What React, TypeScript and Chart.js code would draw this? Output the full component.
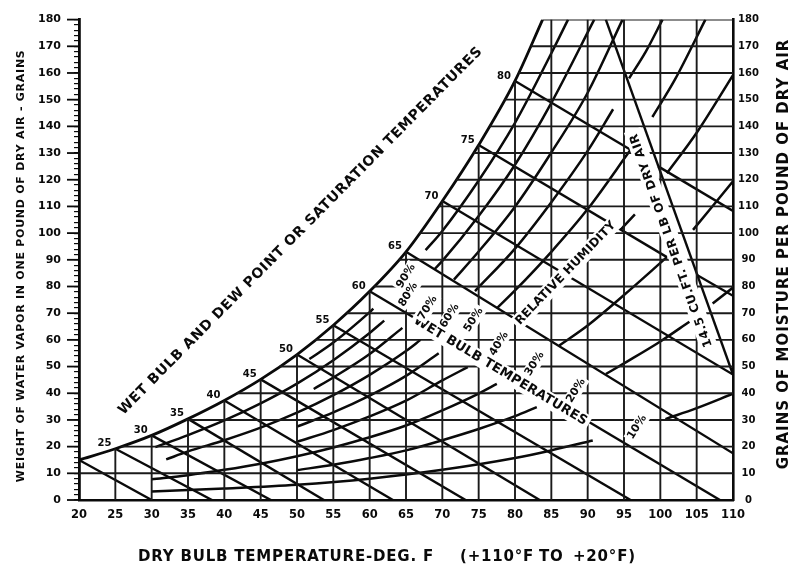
import { useEffect, useRef } from 'react';
import { Chart, registerables } from 'chart.js';

Chart.register(...registerables);

type Pt = [number, number] | null;

// ---- axes ----
const X_MIN = 20;
const X_MAX = 110;
const X_STEP = 5;
const Y_MIN = 0;
const Y_MAX = 180;

// ---- saturation (100 %) curve : [dry bulb F, grains] ----
const saturation: Pt[] = [[20, 15], [25, 19.2], [30, 24.2], [35, 30.4], [40, 37.3], [45, 45.2], [50, 54.5], [55, 65.5], [60, 78.2], [65, 93], [70, 112], [75, 133], [80, 157], [83.8, 180]];

// ---- relative humidity curves (null = break in the line) ----
const rh10: Pt[] = [[30, 3.2], [40, 4.3], [50, 5.7], [60, 8.0], [70, 11.3], [80, 15.7], [85, 18.6], [90.7, 22.3], null, [100.7, 30.3], [105, 34.4], [110, 39.8]];
const rh20: Pt[] = [[50, 11.2], [55, 13.2], [60, 15.7], [65, 18.6], [70, 22.4], [75, 26.6], [80, 31.4], [83, 34.8], null, [92.5, 47.2], [95, 51.2], [100, 59.4], [104, 66.8], null, [107.2, 73.6], [110, 79.6]];
const rh30: Pt[] = [[30, 7.8], [35, 9.3], [40, 11.3], [45, 13.6], [50, 16.4], [55, 19.7], [60, 23.5], [65, 27.9], [70, 33.6], [75, 39.9], [77.5, 43.5], null, [86.1, 57.9], [90, 65.4], [95, 76.8], [100.9, 91], null, [104.5, 101.2], [110, 119.4]];
const rh40: Pt[] = [[50, 21.8], [55, 26.2], [60, 31.3], [65, 37.2], [70, 44.8], [73.5, 49.8], null, [94.5, 101.2], [96.5, 107], null, [100.9, 122.4], [105, 137.6], [110, 159.2]];
const rh50: Pt[] = [[50, 27.5], [55, 32.8], [60, 39.1], [65, 46.5], [69.5, 55], null, [77.5, 71.8], [80, 78.5], [85, 93], [90, 109], [95.9, 131.2], null, [98.9, 143.5], [102, 157.5], [106.2, 180]];
const rh60: Pt[] = [[32, 15.2], [35, 18.2], [40, 22.4], [45, 27.1], [50, 32.7], [55, 39.3], [60, 46.9], [65, 55.8], [67, 60], null, [74.5, 78.3], [80, 94.2], [85, 111.6], [90, 130.8], [93.5, 146.4], null, [95.7, 158], [98, 168], [100.3, 180]];
const rh70: Pt[] = [[52.3, 41.6], [55, 45.9], [60, 54.7], [64.5, 64.5], null, [71.6, 82.6], [75, 93.1], [80, 109.9], [85, 130.2], [90, 152.6], [94.8, 180]];
const rh80: Pt[] = [[30.5, 19.8], [35, 24.3], [40, 29.8], [45, 36.2], [50, 43.6], [55, 52.4], [60, 62.6], [62, 67.2], null, [68.9, 86.4], [70, 89.6], [75, 106.4], [80, 125.6], [85, 148.8], [90.9, 180]];
const rh90: Pt[] = [[51.7, 52.8], [55, 59], [60, 70.4], [60.5, 71.7], null, [67.7, 93.6], [70, 100.8], [75, 119.7], [80, 141.3], [85, 167.4], [87.3, 180]];

// ---- wet bulb lines ----
const wb20: Pt[] = [[20, 15], [30, 0]];
const wb25: Pt[] = [[25, 19.2], [38.3, 0]];
const wb30: Pt[] = [[30, 24.2], [46.4, 0]];
const wb35: Pt[] = [[35, 30.4], [53.7, 0]];
const wb40: Pt[] = [[40, 37.3], [63.2, 0]];
const wb45: Pt[] = [[45, 45.2], [73.2, 0]];
const wb50: Pt[] = [[50, 54.5], [83.4, 0]];
const wb55: Pt[] = [[55, 65.5], [95.9, 0]];
const wb60: Pt[] = [[60, 78.2], [108.2, 0]];
const wb65: Pt[] = [[65, 93], [110, 17.5]];
const wb70: Pt[] = [[70, 112], [110, 47]];
const wb75: Pt[] = [[75, 133], [100.9, 91], null, [105.1, 84.2], [110, 76.5]];
const wb80: Pt[] = [[80, 157], [95.9, 131.2], null, [99.7, 125], [110, 108.3]];
const wetBulbTemps = [20, 25, 30, 35, 40, 45, 50, 55, 60, 65, 70, 75, 80];

// ---- 14.5 cu ft specific volume line ----
const specVolume: Pt[] = [[92.5, 180], [110, 47]];

// ---- grid: vertical lines [dry bulb, top grains], horizontal lines [grains, start dry bulb] ----
const gridVertical: Pt[] = [[25, 19.2], [30, 24.2], [35, 30.4], [40, 37.3], [45, 45.2], [50, 54.5], [55, 65.5], [60, 78.2], [65, 93], [70, 112], [75, 133], [80, 157], [85, 180], [90, 180], [95, 180], [100, 180], [105, 180]];
const gridHorizontal: Pt[] = [[10, 20], [20, 25.8], [30, 34.7], [40, 41.7], [50, 47.6], [60, 52.5], [70, 56.8], [80, 60.6], [90, 64], [100, 66.8], [110, 69.5], [120, 71.9], [130, 74.3], [140, 76.5], [150, 78.5], [160, 80.5], [170, 82.2], [180, 83.8]];

// ---- labels ----
const rhLabels: [string, number, number][] = [['90%', 65.0, 83.9], ['80%', 65.3, 77.0], ['70%', 68.0, 72.0], ['60%', 71.0, 69.0], ['50%', 74.3, 67.5], ['40%', 77.8, 58.5], ['30%', 82.7, 51.0], ['20%', 88.4, 41.0], ['10%', 96.8, 27.3]];

const INK = '#0a0a0a';
const FONT = '"DejaVu Sans", sans-serif';

type TextLabel = { t: string; x: number; y: number; r: number; size: number; ls: number; pad: number; box: boolean };
const textLabels: TextLabel[] = [
  { t: 'WET BULB TEMPERATURES', x: 78, y: 48.3, r: 31, size: 13, ls: 0.2, pad: 3, box: true },
  { t: 'RELATIVE HUMIDITY', x: 87.0, y: 85.0, r: -46, size: 12, ls: 0.2, pad: 3, box: true },
  { t: '14.5 CU.FT. PER LB OF DRY AIR', x: 101.5, y: 97.3, r: -109.5, size: 12, ls: 0.6, pad: 4, box: true },
  { t: 'WET BULB AND DEW POINT OR SATURATION TEMPERATURES', x: 50.5, y: 100.8, r: -45.3, size: 14, ls: 0.7, pad: 0, box: false },
];

function toSegments(pts: Pt[]) {
  const segs: { x: number; y: number }[][] = [];
  let cur: { x: number; y: number }[] = [];
  for (const p of pts) {
    if (p === null) {
      if (cur.length) segs.push(cur);
      cur = [];
    } else cur.push({ x: p[0], y: p[1] });
  }
  if (cur.length) segs.push(cur);
  return segs;
}

function lineSets(pts: Pt[], width: number, smooth: boolean, color = INK) {
  return toSegments(pts).map((seg) => ({
    data: seg,
    showLine: true,
    borderColor: color,
    backgroundColor: color,
    borderWidth: width,
    pointRadius: 0,
    fill: false,
    tension: 0,
    cubicInterpolationMode: smooth ? 'monotone' : 'default',
  }));
}

function drawText(ctx: CanvasRenderingContext2D, t: string, px: number, py: number, rot: number, font: string, ls: number, pad: number, box: boolean, h: number) {
  ctx.save();
  ctx.translate(px, py);
  ctx.rotate((rot * Math.PI) / 180);
  ctx.font = font;
  (ctx as any).letterSpacing = ls + 'px';
  const w = ctx.measureText(t).width;
  if (box) {
    ctx.fillStyle = '#ffffff';
    ctx.fillRect(-w / 2 - pad, -h / 2 - pad, w + 2 * pad, h + 2 * pad);
  }
  ctx.fillStyle = INK;
  ctx.textAlign = 'center';
  ctx.textBaseline = 'middle';
  ctx.fillText(t, 0, 0);
  ctx.restore();
}

const labelPlugin = {
  id: 'psychroLabels',
  afterDatasetsDraw(chart: any) {
    const ctx: CanvasRenderingContext2D = chart.ctx;
    const xs = chart.scales.x;
    const ys = chart.scales.y;
    for (const a of textLabels) {
      drawText(ctx, a.t, xs.getPixelForValue(a.x), ys.getPixelForValue(a.y), a.r, `bold ${a.size}px ${FONT}`, a.ls, a.pad, a.box, a.size * 0.8);
    }
    for (const [t, x, y] of rhLabels) {
      drawText(ctx, t, xs.getPixelForValue(x), ys.getPixelForValue(y), -58, `bold 11px ${FONT}`, 0, 2, true, 9);
    }
    // wet bulb temperature labels along saturation curve
    const wbs = [wb20, wb25, wb30, wb35, wb40, wb45, wb50, wb55, wb60, wb65, wb70, wb75, wb80];
    ctx.save();
    ctx.font = `bold 10px ${FONT}`;
    ctx.fillStyle = INK;
    ctx.textAlign = 'right';
    ctx.textBaseline = 'middle';
    wetBulbTemps.forEach((t, i) => {
      if (t === 20) return;
      const p = wbs[i][0] as [number, number];
      ctx.fillText(String(t), xs.getPixelForValue(p[0]) - 4, ys.getPixelForValue(p[1]) - 5);
    });
    ctx.restore();
    // major ticks on left axis
    ctx.save();
    ctx.strokeStyle = INK;
    ctx.lineWidth = 1.8;
    for (let v = Y_MIN; v <= Y_MAX; v += 10) {
      const py = ys.getPixelForValue(v);
      ctx.beginPath();
      ctx.moveTo(xs.left - 12, py);
      ctx.lineTo(xs.left, py);
      ctx.stroke();
    }
    ctx.restore();
  },
  afterDraw(chart: any) {
    const ctx: CanvasRenderingContext2D = chart.ctx;
    const area = chart.chartArea;
    drawText(ctx, 'WEIGHT OF WATER VAPOR IN ONE POUND OF DRY AIR - GRAINS', 21, (area.top + area.bottom) / 2 + 6, -90, `bold 11px ${FONT}`, 0.75, 0, false, 9);
    drawText(ctx, 'GRAINS OF MOISTURE PER POUND OF DRY AIR', 784, 254, -90, `bold 15px ${FONT}`, 1, 0, false, 12);
    ctx.save();
    ctx.fillStyle = INK;
    ctx.font = `bold 15px ${FONT}`;
    (ctx as any).letterSpacing = '0.8px';
    ctx.textBaseline = 'alphabetic';
    ctx.textAlign = 'left';
    ctx.fillText('DRY BULB TEMPERATURE-DEG. F', 138, 561);
    ctx.fillText('(+110°F', 460, 561);
    ctx.fillText('TO', 539, 561);
    ctx.fillText('+20°F)', 573, 561);
    ctx.restore();
  },
};

export default function App() {
  const ref = useRef<HTMLCanvasElement>(null);
  useEffect(() => {
    if (!ref.current) return;
    const datasets: any[] = [];
    for (const g of gridVertical) {
      const [x, top] = g as [number, number];
      datasets.push(...lineSets([[x, 0], [x, top]], 1.9, false, '#1a1a1a'));
    }
    for (const g of gridHorizontal) {
      const [y, start] = g as [number, number];
      datasets.push(...lineSets([[start, y], [X_MAX, y]], 1.9, false, '#1a1a1a'));
    }
    datasets.push(...lineSets(saturation, 2.8, true));
    for (const rh of [rh10, rh20, rh30, rh40, rh50, rh60, rh70, rh80, rh90]) datasets.push(...lineSets(rh, 2.5, true));
    for (const wb of [wb20, wb25, wb30, wb35, wb40, wb45, wb50, wb55, wb60, wb65, wb70, wb75, wb80]) datasets.push(...lineSets(wb, 2.4, false));
    datasets.push(...lineSets(specVolume, 2.4, false));

    const tickFont = { family: FONT, size: 11, weight: 'bold' as const };
    const chart = new Chart(ref.current, {
      type: 'scatter',
      data: { datasets },
      options: {
        responsive: false,
        animation: false,
        devicePixelRatio: 1,
        events: [],
        layout: { padding: { top: 17, left: 0, right: 0, bottom: 0 } },
        plugins: { legend: { display: false }, tooltip: { enabled: false } },
        elements: { point: { radius: 0, hoverRadius: 0 } },
        scales: {
          x: {
            type: 'linear',
            min: X_MIN,
            max: X_MAX,
            position: 'bottom',
            ticks: { stepSize: X_STEP, autoSkip: false, maxRotation: 0, padding: 8, color: INK, font: { family: FONT, size: 11.5, weight: 'bold' } },
            grid: { drawOnChartArea: false, drawTicks: false },
            border: { display: true, color: INK, width: 2.6 },
            afterFit: (s: any) => { s.height = 70; },
          },
          y: {
            type: 'linear',
            min: Y_MIN,
            max: Y_MAX,
            position: 'left',
            ticks: { stepSize: 2, autoSkip: false, padding: 13, color: INK, font: tickFont, callback: (v: any) => (Number(v) % 10 === 0 ? String(v) : '') },
            grid: { drawOnChartArea: false, drawTicks: true, tickLength: 5, color: INK, lineWidth: 1.2 },
            border: { display: true, color: INK, width: 2.8 },
            afterFit: (s: any) => { s.width = 79; },
          },
          y2: {
            type: 'linear',
            min: Y_MIN,
            max: Y_MAX,
            position: 'right',
            ticks: { stepSize: 10, autoSkip: false, padding: 5, crossAlign: 'center', color: INK, font: { family: FONT, size: 10, weight: 'bold' } },
            grid: { drawOnChartArea: false, drawTicks: false },
            border: { display: true, color: INK, width: 2.6 },
            afterFit: (s: any) => { s.width = 67; },
          },
        },
      },
      plugins: [labelPlugin],
    } as any);
    return () => chart.destroy();
  }, []);
  return (
    <div style={{ position: 'fixed', left: 0, top: 0, width: 800, height: 570, background: '#fff' }}>
      <canvas ref={ref} width={800} height={570} style={{ display: 'block' }} />
    </div>
  );
}
